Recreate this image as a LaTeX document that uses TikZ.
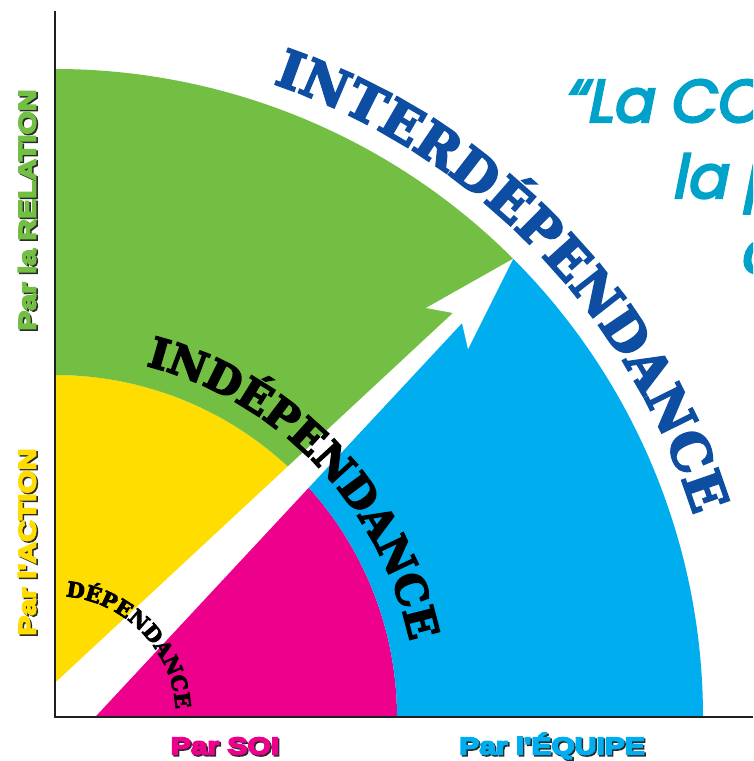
\documentclass[tikz,border=0pt]{standalone}
\usepackage{fontspec}
\usetikzlibrary{decorations.text}
\newfontfamily\arcfont{DejaVu Serif}[FakeBold=4]
\newfontfamily\labfont{Liberation Sans}[FakeStretch=1.25, FakeBold=7]
\newfontfamily\quotefont{Poppins}[FakeSlant=0.2, FakeBold=4]
\definecolor{cgreen}{HTML}{72BF44}
\definecolor{cyellow}{HTML}{FFDD00}
\definecolor{cpink}{HTML}{EC008C}
\definecolor{cblue}{HTML}{00AEEF}
\definecolor{ctext}{HTML}{0D4EA2}
\definecolor{cquote}{HTML}{00A2C9}
\definecolor{caxis}{HTML}{231F20}
\definecolor{cshadow}{HTML}{2A2A2A}
\tikzset{
  lab/.style={font=\labfont\bfseries\fontsize{24}{28}\selectfont, inner sep=0pt},
  quote/.style={font=\quotefont\fontsize{60}{70}\selectfont, text=cquote, inner sep=0pt, anchor=base west},
  axis/.style={draw=caxis, line width=2.8pt},
}
\begin{document}
\begin{tikzpicture}[x=1pt,y=1pt]
\useasboundingbox (-55,-44) rectangle (698,717);
\begin{scope}
\clip (-55,-44) rectangle (698,717);
\coordinate (O) at (0,0);
% sectors
\fill[cyellow] (O) -- (90:342) arc[start angle=90, end angle=45, radius=342] -- cycle;
\fill[cgreen] (90:342) -- (90:648) arc[start angle=90, end angle=45, radius=648] -- (45:342) arc[start angle=45, end angle=90, radius=342] -- cycle;
\fill[cpink] (O) -- (0:342) arc[start angle=0, end angle=45, radius=342] -- cycle;
\fill[cblue] (0:342) -- (0:648) arc[start angle=0, end angle=45, radius=648] -- (45:342) arc[start angle=45, end angle=0, radius=342] -- cycle;
% white arrow
\coordinate (tip) at (45:648);
\fill[white] (O) -- (0,34) -- (398,404) -- (371,409) -- (tip) -- (413,368) -- (407,394) -- (40,0) -- cycle;
% arc texts
\path[decorate, decoration={text along path, text align=fit to path,
  text={|\arcfont\bfseries\fontsize{52}{60}\selectfont\color{ctext}|INTERDÉPENDANCE}}]
  (71:670) arc[start angle=71, end angle=17.5, radius=670];
\path[decorate, decoration={text along path, text align=fit to path,
  text={|\arcfont\bfseries\fontsize{42}{50}\selectfont\color{black}|INDÉPENDANCE}}]
  (75.5:363) arc[start angle=75.5, end angle=12, radius=363];
\path[decorate, decoration={text along path, text align=fit to path,
  text={|\arcfont\bfseries\fontsize{21}{25}\selectfont\color{black}|DÉPENDANCE}}]
  (85:121) arc[start angle=85, end angle=5, radius=121];
% axes
\coordinate (ytop) at (0,706);
\coordinate (xend) at (698,0);
\draw[axis] (ytop) -- (O) -- (xend);
% labels
\node[lab, rotate=90, text=cshadow] (relS) at (-26.5,505.5) {Par la RELATION};
\node[lab, rotate=90, text=cgreen] (rel) at (-28,507) {Par la RELATION};
\node[lab, rotate=90, text=cshadow] (actS) at (-26.5,173.5) {Par l'ACTION};
\node[lab, rotate=90, text=cyellow] (act) at (-28,175) {Par l'ACTION};
\node[lab, text=cshadow] (soiS) at (171.5,-30.5) {Par SOI};
\node[lab, text=cpink] (soi) at (170,-29) {Par SOI};
\node[lab, text=cshadow] (eqS) at (498.5,-30.5) {Par l'ÉQUIPE};
\node[lab, text=cblue] (eq) at (497,-29) {Par l'ÉQUIPE};
% quote
\node[quote] (q1) at (508,595) {“La CO};
\node[quote] (q2) at (616,519) {la p};
\node[quote] (q3) at (684,444) {c};
\end{scope}
\end{tikzpicture}
\end{document}
